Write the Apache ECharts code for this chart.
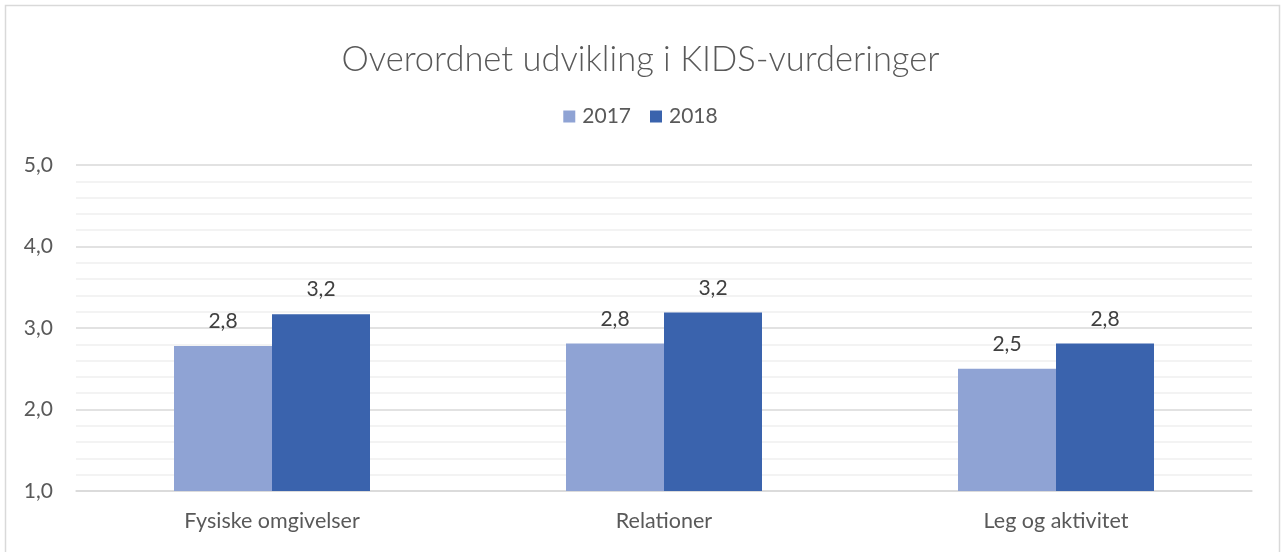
<!DOCTYPE html>
<html>
<head>
<meta charset="utf-8">
<script src="https://cdn.jsdelivr.net/npm/echarts@6/dist/echarts.min.js"></script>
<style>
html,body{margin:0;padding:0;background:#fff;}
#c{width:1281px;height:552px;}
</style>
</head>
<body>
<div id="c"></div>
<script>
const title = 'Overordnet udvikling i KIDS-vurderinger';
const categories = ['Fysiske omgivelser', 'Relationer', 'Leg og aktivitet'];
const seriesNames = ['2017', '2018'];
const values2017 = [2.78, 2.81, 2.50];
const values2018 = [3.17, 3.19, 2.81];
const yTicks = [1, 2, 3, 4, 5];

const fmt = v => v.toFixed(1).replace('.', ',');
const font = 'Lato, "Open Sans", sans-serif';
const chart = echarts.init(document.getElementById('c'), null, {renderer: 'canvas'});
chart.setOption({
  animation: false,
  backgroundColor: '#fff',
  title: {
    text: title, left: 'center', top: 37,
    textStyle: {fontFamily: font, fontSize: 34.5, fontWeight: 300, color: '#595959'}
  },
  legend: {
    data: seriesNames, top: 101, left: 'center',
    itemWidth: 12, itemHeight: 12, itemGap: 19,
    icon: 'rect',
    textStyle: {fontFamily: font, fontSize: 21, color: '#595959', padding: [0,0,0,2]}
  },
  graphic: [{
    type: 'rect', shape: {x: 5.5, y: 5.5, width: 1274, height: 560},
    style: {fill: 'none', stroke: '#D9D9D9', lineWidth: 1.5}, silent: true
  }],
  grid: {left: 76, right: 29, top: 165, bottom: 61, containLabel: false},
  xAxis: {
    type: 'category', data: categories,
    axisLine: {show: true, lineStyle: {color: '#D9D9D9', width: 1.5}},
    axisTick: {show: false},
    axisLabel: {fontFamily: font, fontSize: 21.5, color: '#595959', margin: 19}
  },
  yAxis: {
    type: 'value', min: yTicks[0], max: yTicks[yTicks.length - 1], interval: 1,
    axisLine: {show: false}, axisTick: {show: false},
    axisLabel: {fontFamily: font, fontSize: 21, color: '#595959', margin: 23, formatter: v => fmt(v)},
    splitLine: {show: true, lineStyle: {color: '#D9D9D9', width: 1.5}},
    minorTick: {show: false, splitNumber: 5},
    minorSplitLine: {show: true, lineStyle: {color: '#F0F0F0', width: 1.5}}
  },
  series: [
    {
      name: seriesNames[0], type: 'bar', data: values2017,
      barGap: '0%', barCategoryGap: '50%',
      itemStyle: {color: '#8FA3D4'},
      label: {show: true, position: 'top', distance: 14, fontFamily: font, fontSize: 21, color: '#404040', formatter: p => fmt(p.value)}
    },
    {
      name: seriesNames[1], type: 'bar', data: values2018,
      barGap: '0%', barCategoryGap: '50%',
      itemStyle: {color: '#3A63AD'},
      label: {show: true, position: 'top', distance: 14, fontFamily: font, fontSize: 21, color: '#404040', formatter: p => fmt(p.value)}
    }
  ]
});
</script>
</body>
</html>
